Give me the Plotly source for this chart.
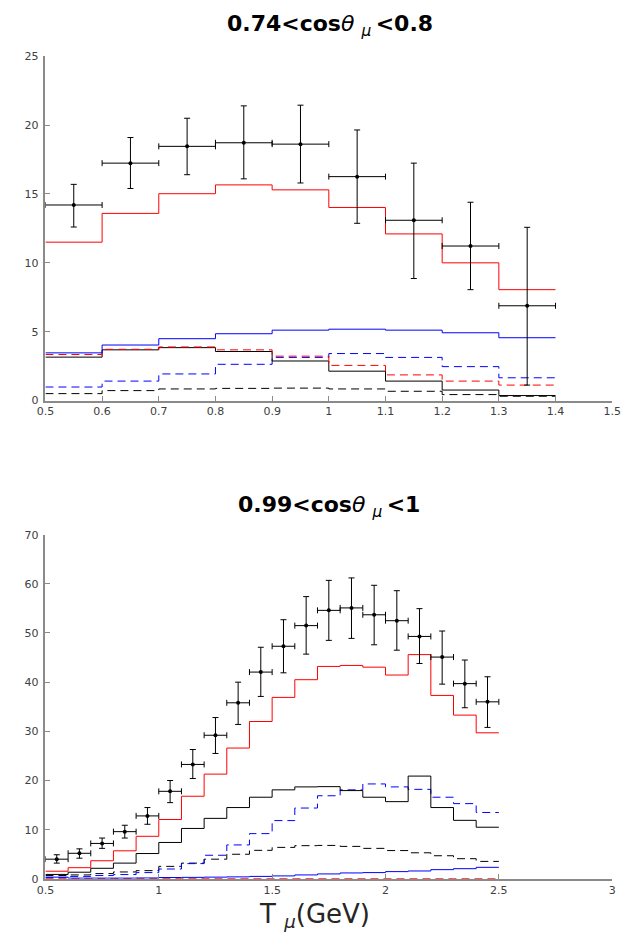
import plotly.graph_objects as go

# ---------------- top panel: 0.74 < cos < 0.8 ----------------
top_edges_start = [0.5, 0.6, 0.7, 0.8, 0.9, 1.0, 1.1, 1.2, 1.3]
top_bin_width = 0.1
top_data = [14.2, 17.24, 18.46, 18.72, 18.62, 16.26, 13.09, 11.22, 6.88]
top_data_hi = [15.7, 19.1, 20.5, 21.4, 21.45, 19.65, 17.24, 14.4, 12.58]
top_data_lo = [12.6, 15.4, 16.4, 16.1, 15.8, 12.87, 8.86, 8.05, 1.12]
top_red = [11.5, 13.59, 15.02, 15.66, 15.3, 14.02, 12.1, 10.0, 8.05]
top_blue = [3.46, 4.03, 4.49, 4.85, 5.11, 5.18, 5.11, 4.92, 4.56]
top_red_dash = [3.34, 3.72, 3.89, 3.68, 3.22, 2.55, 1.86, 1.41, 1.12]
top_black = [3.15, 3.68, 3.84, 3.56, 2.87, 2.13, 1.41, 0.76, 0.36]
top_blue_dash = [0.98, 1.41, 1.93, 2.63, 3.13, 3.41, 3.13, 2.46, 1.65]
top_black_dash = [0.5, 0.72, 0.84, 0.88, 0.9, 0.84, 0.67, 0.43, 0.31]
top_xticks = [0.5, 0.6, 0.7, 0.8, 0.9, 1.0, 1.1, 1.2, 1.3, 1.4, 1.5]
top_xticklabels = ["0.5", "0.6", "0.7", "0.8", "0.9", "1", "1.1", "1.2", "1.3", "1.4", "1.5"]
top_yticks = [0, 5, 10, 15, 20, 25]

# ---------------- bottom panel: 0.99 < cos < 1 ----------------
bot_edges_start = [0.5, 0.6, 0.7, 0.8, 0.9, 1.0, 1.1, 1.2, 1.3, 1.4,
                   1.5, 1.6, 1.7, 1.8, 1.9, 2.0, 2.1, 2.2, 2.3, 2.4]
bot_bin_width = 0.1
bot_data = [4.0, 5.2, 7.2, 9.6, 12.8, 17.8, 23.27, 29.2, 35.8, 42.05,
            47.3, 51.5, 54.6, 55.1, 53.7, 52.5, 49.3, 45.1, 39.7, 36.0]
bot_data_hi = [4.9, 6.1, 8.3, 10.9, 14.5, 20.0, 26.3, 32.8, 40.0, 47.1,
               52.7, 57.4, 60.7, 61.2, 59.7, 58.6, 54.95, 50.4, 44.5, 41.1]
bot_data_lo = [3.2, 4.2, 6.2, 8.3, 11.1, 15.5, 20.4, 25.5, 31.4, 37.1,
               41.9, 45.7, 48.5, 48.9, 47.6, 46.5, 43.8, 39.6, 34.8, 30.8]
bot_red = [1.55, 2.27, 3.68, 5.7, 8.65, 12.07, 16.8, 21.3, 26.6, 32.0,
           36.9, 40.5, 43.2, 43.4, 43.05, 41.45, 45.6, 37.3, 33.3, 29.7]
bot_black = [0.9, 1.35, 2.15, 3.2, 5.15, 7.4, 10.25, 12.3, 14.5, 16.6,
             18.1, 18.7, 18.75, 17.95, 16.6, 15.7, 20.9, 14.5, 11.9, 10.5]
bot_blue_dash = [0.25, 0.5, 0.67, 0.87, 1.27, 2.0, 3.1, 4.8, 6.9, 9.2,
                 11.85, 14.4, 16.9, 18.1, 19.3, 18.7, 18.2, 16.6, 15.3, 13.5]
bot_black_dash = [0.67, 0.8, 1.07, 1.4, 1.67, 2.54, 3.2, 4.0, 5.0, 5.8,
                  6.4, 6.75, 6.8, 6.6, 6.2, 5.75, 5.3, 4.7, 4.1, 3.55]
bot_blue = [0.35, 0.15, 0.15, 0.15, 0.18, 0.27, 0.3, 0.35, 0.4, 0.5,
            0.6, 0.8, 1.0, 1.2, 1.27, 1.47, 1.6, 1.87, 2.07, 2.34]
bot_red_dash = [0.05, 0.05, 0.05, 0.05, 0.05, 0.05, 0.05, 0.05, 0.05, 0.05,
                0.05, 0.05, 0.05, 0.05, 0.05, 0.05, 0.05, 0.05, 0.05, 0.05]
bot_xticks = [0.5, 1.0, 1.5, 2.0, 2.5, 3.0]
bot_xticklabels = ["0.5", "1", "1.5", "2", "2.5", "3"]
bot_yticks = [0, 10, 20, 30, 40, 50, 60, 70]

W, H = 628, 947
fig = go.Figure()


def px(xr):
    return xr / W


def py(yr):
    return (H - yr) / H


def step(starts, width, vals, color, dash, xa, ya):
    xs = list(starts) + [starts[-1] + width]
    ys = list(vals) + [vals[-1]]
    fig.add_trace(go.Scatter(x=xs, y=ys, mode="lines", line_shape="hv",
                             line=dict(color=color, width=1, dash=dash),
                             xaxis=xa, yaxis=ya, showlegend=False,
                             hoverinfo="skip"))


def points(starts, width, vals, hi, lo, xa, ya):
    xc = [s + width / 2 for s in starts]
    up = [h - v for h, v in zip(hi, vals)]
    dn = [v - l for v, l in zip(vals, lo)]
    fig.add_trace(go.Scatter(x=xc, y=vals, mode="markers",
                             marker=dict(color="black", size=4),
                             error_x=dict(type="constant", value=width / 2,
                                          color="black", thickness=1, width=3),
                             error_y=dict(type="data", symmetric=False,
                                          array=up, arrayminus=dn,
                                          color="black", thickness=1, width=3),
                             xaxis=xa, yaxis=ya, showlegend=False))


DASH = "8px,5px"
# top panel
for vals, col, d in [(top_black_dash, "black", DASH), (top_blue_dash, "blue", DASH),
                     (top_black, "black", "solid"), (top_red_dash, "red", DASH),
                     (top_blue, "blue", "solid"), (top_red, "red", "solid")]:
    step(top_edges_start, top_bin_width, vals, col, d, "x", "y")
points(top_edges_start, top_bin_width, top_data, top_data_hi, top_data_lo, "x", "y")

# bottom panel
for vals, col, d in [(bot_red_dash, "red", DASH), (bot_black_dash, "black", DASH),
                     (bot_blue_dash, "blue", DASH), (bot_blue, "blue", "solid"),
                     (bot_black, "black", "solid"), (bot_red, "red", "solid")]:
    step(bot_edges_start, bot_bin_width, vals, col, d, "x2", "y2")
points(bot_edges_start, bot_bin_width, bot_data, bot_data_hi, bot_data_lo, "x2", "y2")

AX_COL = "#8a8a8a"
TICK_FONT = dict(family="DejaVu Sans", size=11, color="#404040")
common = dict(showgrid=False, zeroline=False, showline=True, linecolor=AX_COL,
              linewidth=1.5, ticks="inside", ticklen=5, tickcolor=AX_COL,
              tickfont=TICK_FONT, mirror=False, ticklabeloverflow="allow")

x0, x1 = px(37.5), px(621)
fig.update_layout(
    width=W, height=H, autosize=False,
    margin=dict(l=0, r=0, t=0, b=0),
    plot_bgcolor="white", paper_bgcolor="white",
    xaxis=dict(domain=[x0, x1], range=[0.5, 1.5], tickvals=top_xticks,
               ticktext=top_xticklabels, anchor="y", **common),
    yaxis=dict(domain=[py(400), py(51)], range=[0, 25],
               tickvals=top_yticks, anchor="x", ticklabelstandoff=3, **common),
    xaxis2=dict(domain=[x0, x1], range=[0.5, 3], tickvals=bot_xticks,
                ticktext=bot_xticklabels, anchor="y2", **common),
    yaxis2=dict(domain=[py(885), py(536)], range=[0, 70],
                tickvals=bot_yticks, anchor="x2", ticklabelstandoff=3, **common),
)

TITLE_FONT = dict(family="DejaVu Sans", size=22, color="black")
TH = '<span style="font-weight:normal"><i>θ</i></span>'
MU = '<sub><i>μ</i></sub>'
fig.add_annotation(text="<b>0.74&lt;cos</b>" + TH + "&nbsp;" + MU + "&#8201;<b>&lt;0.8</b>",
                   x=px(330), y=py(20), xref="paper", yref="paper",
                   showarrow=False, font=TITLE_FONT, xanchor="center", yanchor="middle")
fig.add_annotation(text="<b>0.99&lt;cos</b>" + TH + "&nbsp;" + MU + "&#8201;<b>&lt;1</b>",
                   x=px(329), y=py(507), xref="paper", yref="paper",
                   showarrow=False, font=TITLE_FONT, xanchor="center", yanchor="middle")
fig.add_annotation(text="T&nbsp;<sub><i>μ</i></sub>(GeV)",
                   x=px(315), y=py(922), xref="paper", yref="paper",
                   showarrow=False, font=dict(family="DejaVu Sans", size=26, color="#262626"),
                   xanchor="center", yanchor="middle")

fig.write_html("out.html")
